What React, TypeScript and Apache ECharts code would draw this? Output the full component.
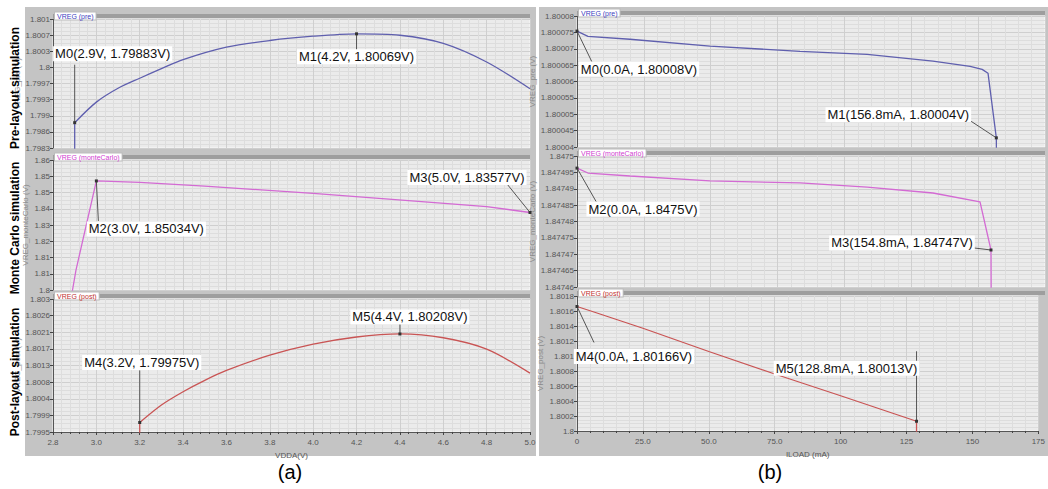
import React, { useEffect, useRef } from 'react';
import * as echarts from 'echarts';

// ---------- data: column (a) VREG vs VDDA ----------
const vddaPre = [2.9, 2.9, 3.0, 3.1, 3.2, 3.3, 3.4, 3.6, 3.8, 4.0, 4.2, 4.4, 4.6, 4.8, 5.0];
const vregPre = [1.7975, 1.79883, 1.79926, 1.79955, 1.79976, 1.79996, 1.80015, 1.80041, 1.80055, 1.80064, 1.80069, 1.80066, 1.80049, 1.8001, 1.79954];
const vddaMc = [2.885, 2.89, 2.906, 3.0, 3.2, 3.5, 4.0, 4.5, 4.8, 5.0];
const vregMc = [1.795, 1.8, 1.8092, 1.85034, 1.8497, 1.8479, 1.8446, 1.8408, 1.8385, 1.83577];
const vddaPost = [3.2, 3.2, 3.3, 3.4, 3.5, 3.6, 3.8, 4.0, 4.2, 4.4, 4.6, 4.8, 5.0];
const vregPost = [1.799, 1.79975, 1.80021, 1.80056, 1.80086, 1.80112, 1.80152, 1.80181, 1.802, 1.80208, 1.80198, 1.80168, 1.80105];

// ---------- data: column (b) VREG vs ILOAD ----------
const iloadPre = [0, 4.1, 19.8, 49.7, 83.4, 108.5, 133.1, 147, 151.5, 153.7, 156.8, 156.9];
const vregPreB = [1.8000754, 1.8000738, 1.8000729, 1.8000708, 1.8000692, 1.8000683, 1.8000662, 1.8000646, 1.8000637, 1.8000625, 1.8000428, 1.80003];
const iloadMc = [0, 4.1, 19.8, 49.7, 83.4, 108.5, 133.1, 150.7, 154.8, 154.9];
const vregMcB = [1.8474963, 1.8474948, 1.8474939, 1.8474924, 1.8474918, 1.8474905, 1.8474887, 1.847486, 1.8474713, 1.84745];
const iloadPost = [0, 7, 25, 50, 75, 100, 128.8, 128.8];
const vregPostB = [1.80166, 1.80158, 1.80137, 1.80106, 1.80076, 1.80047, 1.80013, 1.7998];

// ---------- tick labels (bottom to top) ----------
const yTicksPreA = ['1.7983', '1.7986', '1.799', '1.7993', '1.7997', '1.8', '1.8003', '1.8007', '1.801'];
const yTicksMcA = ['1.8', '1.81', '1.81', '1.82', '1.83', '1.84', '1.85', '1.85', '1.86'];
const yTicksPostA = ['1.7995', '1.7999', '1.8004', '1.8008', '1.8013', '1.8017', '1.8021', '1.8026', '1.803'];
const yTicksPreB = ['1.80004', '1.800045', '1.80005', '1.800055', '1.80006', '1.800065', '1.80007', '1.800075', '1.80008'];
const yTicksMcB = ['1.84746', '1.847465', '1.84747', '1.847475', '1.84748', '1.847485', '1.84749', '1.847495', '1.8475'];
const yTicksPostB = ['1.8', '1.8002', '1.8004', '1.8006', '1.8008', '1.801', '1.8012', '1.8014', '1.8016', '1.8018'];

// ---------- text ----------
const rowTitles = ['Pre-layout simulation', 'Monte Carlo simulation', 'Post-layout simulation'];
const tabNames = ['VREG (pre)', 'VREG (monteCarlo)', 'VREG (post)'];
const yNames = ['VREG_pre (V)', 'VREG_monteCarlo (V)', 'VREG_post (V)'];
const xNames = ['VDDA(V)', 'ILOAD (mA)'];
const panelTitles = ['(a)', '(b)'];

// markers: plot index, data index, text
const markerPlot = [0, 0, 1, 1, 2, 2, 3, 3, 4, 4, 5, 5];
const markerIndex = [1, 10, 3, 9, 1, 9, 0, 10, 0, 8, 0, 6];
const markerTexts = [
  'M0(2.9V, 1.79883V)', 'M1(4.2V, 1.80069V)', 'M2(3.0V, 1.85034V)', 'M3(5.0V, 1.83577V)',
  'M4(3.2V, 1.79975V)', 'M5(4.4V, 1.80208V)',
  'M0(0.0A, 1.80008V)', 'M1(156.8mA, 1.80004V)', 'M2(0.0A, 1.8475V)', 'M3(154.8mA, 1.84747V)',
  'M4(0.0A, 1.80166V)', 'M5(128.8mA, 1.80013V)',
];
// label centre offset and leader end offset, px relative to marker
const labelOffsets = [
  [38, -69], [0, 23], [50, 48], [-63, -35], [2, -60], [10, -17],
  [62, 38], [-98, -23], [66, 41], [-89, -7], [57, 50], [-70, -53],
];
const leaderOffsets = [
  [0, -58], [0, 16], [2, 40], [-25, -31], [0, -52], [0, -10],
  [15, 31], [-32, -21], [20, 35], [-25, -3], [17, 36], [0, -70],
];

const COLORS = ['#5f5fae', '#d36ad3', '#c95454'];
const TAB_COLORS = ['#4040c0', '#d040d0', '#c03030'];
const SMOOTH = [0.3, 0, 0.3, 0, 0, 0];
const NARROW = '"Liberation Sans Narrow", "Arial Narrow", "Liberation Sans", sans-serif';

const columns = [
  { left: 53, width: 477, tops: [19, 160, 299], heights: [129, 130, 133], xMin: 2.8, xMax: 5.0, xInterval: 0.2, nameGapY: 24,
    fmt: (v: number) => v.toFixed(1) },
  { left: 577, width: 468, tops: [16, 156, 296], heights: [131, 131, 135], xMin: 0, xMax: 175, xInterval: 25, nameGapY: 33,
    fmt: (v: number) => (v === 0 ? '0' : v < 100 ? v.toFixed(1) : String(v)) },
];

const seriesX = [vddaPre, vddaMc, vddaPost, iloadPre, iloadMc, iloadPost];
const seriesY = [vregPre, vregMc, vregPost, vregPreB, vregMcB, vregPostB];
const ticks = [yTicksPreA, yTicksMcA, yTicksPostA, yTicksPreB, yTicksMcB, yTicksPostB];

export default function App() {
  const ref = useRef<HTMLDivElement>(null);
  useEffect(() => {
    if (!ref.current) return;
    const chart = echarts.init(ref.current, undefined, { renderer: 'svg' });
    const grid: any[] = [];
    const xAxis: any[] = [];
    const yAxis: any[] = [];
    const series: any[] = [];
    for (let g = 0; g < 6; g++) {
      const c = Math.floor(g / 3);
      const r = g % 3;
      const col = columns[c];
      const tk = ticks[g];
      const n = tk.length - 1;
      grid.push({ left: col.left, top: col.tops[r], width: col.width, height: col.heights[r], show: true,
        backgroundColor: '#ebebeb', borderColor: '#f8f8f8', borderWidth: 1, containLabel: false });
      const bottom = r === 2;
      xAxis.push({
        type: 'value', gridIndex: g, min: col.xMin, max: col.xMax, interval: col.xInterval,
        name: bottom ? xNames[c] : '', nameLocation: 'middle', nameGap: 19,
        nameTextStyle: { fontSize: 8, color: '#555', fontFamily: NARROW },
        axisLine: { show: bottom, onZero: false, lineStyle: { color: '#555' } },
        axisTick: { show: bottom, length: 3, lineStyle: { color: '#444' } },
        minorTick: { show: bottom, splitNumber: 5, length: 2, lineStyle: { color: '#444' } },
        axisLabel: { show: bottom, fontSize: 8, color: '#555', fontFamily: NARROW, margin: 6, formatter: col.fmt },
        splitLine: { show: true, lineStyle: { color: '#cfcfcf', width: 1 } },
        minorSplitLine: { show: true, lineStyle: { color: '#dddddd', width: 1 } },
      });
      yAxis.push({
        type: 'value', gridIndex: g, min: 0, max: n, interval: 1,
        name: yNames[r], nameLocation: 'middle', nameGap: col.nameGapY,
        nameTextStyle: { fontSize: 8, color: '#8a8a8a', fontFamily: NARROW },
        axisLine: { show: true, lineStyle: { color: '#555' } },
        axisTick: { show: true, length: 3, lineStyle: { color: '#444' } },
        axisLabel: { fontSize: 8, color: '#555', fontFamily: NARROW, margin: 3,
          formatter: (v: number) => tk[Math.round(v)] ?? '' },
        splitLine: { show: true, lineStyle: { color: '#cfcfcf', width: 1 } },
        minorSplitLine: { show: true, lineStyle: { color: '#dddddd', width: 1 } },
        minorTick: { show: false, splitNumber: 4 },
      });
      yAxis.push({
        type: 'value', gridIndex: g, min: parseFloat(tk[0]), max: parseFloat(tk[n]), show: false,
        splitLine: { show: false },
      });
      const data = seriesX[g].map((x, i) => [x, seriesY[g][i]]);
      const base = { type: 'line', xAxisIndex: g, yAxisIndex: 2 * g + 1, showSymbol: false, silent: true,
        lineStyle: { color: COLORS[r], width: 1.3 }, clip: true };
      if (SMOOTH[g] > 0) {
        series.push({ ...base, smooth: false, data: data.slice(0, 2) });
        series.push({ ...base, smooth: SMOOTH[g], data: data.slice(1) });
      } else {
        series.push({ ...base, smooth: false, data });
      }
    }
    chart.setOption({
      animation: false,
      backgroundColor: '#ffffff',
      grid, xAxis, yAxis, series,
    });

    const graphic: any[] = [];
    graphic.push({ type: 'rect', z: -100, shape: { x: 25, y: 7, width: 511, height: 449 }, style: { fill: '#c4c4c4' } });
    graphic.push({ type: 'rect', z: -100, shape: { x: 539, y: 7, width: 509, height: 449 }, style: { fill: '#c4c4c4' } });
    const rowCenters = [88, 228, 372];
    rowTitles.forEach((t, r) => {
      graphic.push({ type: 'text', x: 15, y: rowCenters[r], rotation: Math.PI / 2, z: 10,
        style: { text: t, fill: '#000', fontSize: 12, fontWeight: 'bold', fontFamily: NARROW, align: 'center', verticalAlign: 'middle' } });
    });
    panelTitles.forEach((t, c) => {
      graphic.push({ type: 'text', x: [290, 770][c], y: 472, z: 10,
        style: { text: t, fill: '#000', fontSize: 20, fontFamily: '"Liberation Sans", Arial, sans-serif', align: 'center', verticalAlign: 'middle' } });
    });
    for (let g = 0; g < 6; g++) {
      const c = Math.floor(g / 3);
      const r = g % 3;
      const col = columns[c];
      const top = col.tops[r];
      graphic.push({ type: 'rect', z: 5, shape: { x: col.left, y: top - 5, width: col.width, height: 4 }, style: { fill: '#9e9e9e' } });
      graphic.push({ type: 'text', x: col.left + 2, y: top - 3, z: 6,
        style: { text: tabNames[r], fill: TAB_COLORS[r], fontSize: 7, fontFamily: NARROW, align: 'left', verticalAlign: 'middle',
          backgroundColor: '#ffffff', borderColor: '#bbbbbb', borderWidth: 1, padding: [0, 2] } });
    }
    markerTexts.forEach((t, m) => {
      const g = markerPlot[m];
      const i = markerIndex[m];
      const p = chart.convertToPixel({ xAxisIndex: g, yAxisIndex: 2 * g + 1 }, [seriesX[g][i], seriesY[g][i]]) as number[];
      const lo = labelOffsets[m];
      const le = leaderOffsets[m];
      graphic.push({ type: 'line', z: 20, shape: { x1: p[0], y1: p[1], x2: p[0] + le[0], y2: p[1] + le[1] },
        style: { stroke: '#555', lineWidth: 1 } });
      graphic.push({ type: 'rect', z: 21, shape: { x: p[0] - 1.5, y: p[1] - 1.5, width: 3, height: 3 }, style: { fill: '#333' } });
      graphic.push({ type: 'text', x: p[0] + lo[0], y: p[1] + lo[1], z: 22,
        style: { text: t, fill: '#111', fontSize: 13, fontFamily: NARROW, align: 'center', verticalAlign: 'middle',
          backgroundColor: '#ffffff', padding: [1, 2] } });
    });
    chart.setOption({ graphic });
    return () => chart.dispose();
  }, []);
  return <div ref={ref} style={{ position: 'absolute', left: 0, top: 0, width: 1048, height: 489, background: '#fff' }} />;
}
